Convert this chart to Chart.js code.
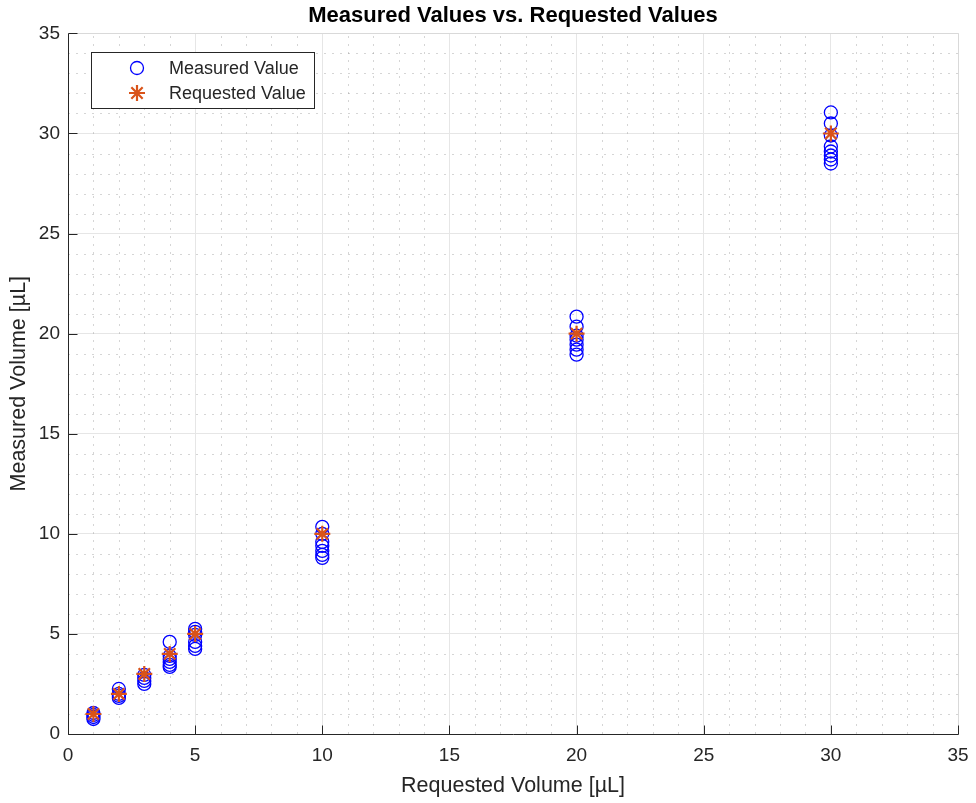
<!DOCTYPE html>
<html>
<head>
<meta charset="utf-8">
<script src="https://cdn.jsdelivr.net/npm/chart.js@4.4.0/dist/chart.umd.min.js"></script>
<style>
  html, body { margin: 0; padding: 0; background: #fff; }
  #wrap { width: 976px; height: 803px; }
</style>
</head>
<body>
<div id="wrap"><canvas id="scatterChart" width="976" height="803"></canvas></div>
<script>
// requested volumes [µL]
var requested = [1, 2, 3, 4, 5, 10, 20, 30];
// measured volumes for each requested volume
var measured1 = [1.05, 0.95, 0.85, 0.75];
var measured2 = [2.25, 2.0, 1.9, 1.8];
var measured3 = [2.95, 2.8, 2.65, 2.5];
var measured4 = [4.6, 3.9, 3.75, 3.6, 3.45, 3.35];
var measured5 = [5.25, 5.1, 4.95, 4.6, 4.4, 4.25];
var measured10 = [10.35, 10.0, 9.6, 9.4, 9.15, 8.95, 8.8];
var measured20 = [20.85, 20.35, 19.9, 19.7, 19.45, 19.2, 18.95];
var measured30 = [31.05, 30.5, 29.9, 29.35, 29.1, 28.9, 28.7, 28.5];
var measuredAll = [measured1, measured2, measured3, measured4, measured5, measured10, measured20, measured30];
var axisTicks = [0, 5, 10, 15, 20, 25, 30, 35];

var measuredPoints = [];
requested.forEach(function (r, i) {
    measuredAll[i].forEach(function (m) {
        measuredPoints.push({ x: r, y: m });
    });
});
var requestedPoints = requested.map(function (r) { return { x: r, y: r }; });

var textColor = '#262626';
var fontFamily = '"Liberation Sans", Arial, Helvetica, sans-serif';

// MATLAB style: minor dotted grid, box, inward ticks, legend inside axes
var matlabPlugin = {
    id: 'matlabPlugin',
    beforeDatasetsDraw: function (chart) {
        var ctx = chart.ctx, a = chart.chartArea;
        var xs = chart.scales.x, ys = chart.scales.y;
        ctx.save();
        ctx.strokeStyle = 'rgba(150,150,150,0.4)';
        ctx.lineWidth = 1;
        ctx.setLineDash([2, 6]);
        for (var v = xs.min; v <= xs.max; v++) {
            if (v % 5 === 0) continue;
            var px = Math.round(xs.getPixelForValue(v)) + 0.5;
            ctx.beginPath(); ctx.moveTo(px, a.bottom); ctx.lineTo(px, a.top); ctx.stroke();
        }
        for (var w = ys.min; w <= ys.max; w++) {
            if (w % 5 === 0) continue;
            var py = Math.round(ys.getPixelForValue(w)) + 0.5;
            ctx.beginPath(); ctx.moveTo(a.left, py); ctx.lineTo(a.right, py); ctx.stroke();
        }
        ctx.restore();
    },
    afterDatasetsDraw: function (chart) {
        var ctx = chart.ctx, a = chart.chartArea;
        var xs = chart.scales.x, ys = chart.scales.y;
        var L = Math.round(a.left) + 0.5, R = Math.round(a.right) + 0.5;
        var T = Math.round(a.top) + 0.5, B = Math.round(a.bottom) + 0.5;
        ctx.save();
        ctx.setLineDash([]);
        ctx.lineWidth = 1;
        // top / right box edges (light)
        ctx.strokeStyle = '#d9d9d9';
        ctx.beginPath();
        ctx.moveTo(L, T); ctx.lineTo(R, T); ctx.lineTo(R, B);
        ctx.stroke();
        // left / bottom axes (dark)
        ctx.strokeStyle = textColor;
        ctx.beginPath();
        ctx.moveTo(L, T); ctx.lineTo(L, B); ctx.lineTo(R, B);
        ctx.stroke();
        // inward ticks
        var tl = 9;
        axisTicks.forEach(function (t) {
            var px = Math.round(xs.getPixelForValue(t)) + 0.5;
            ctx.beginPath();
            ctx.moveTo(px, B); ctx.lineTo(px, B - tl);
            ctx.stroke();
            var py = Math.round(ys.getPixelForValue(t)) + 0.5;
            ctx.beginPath();
            ctx.moveTo(L, py); ctx.lineTo(L + tl, py);
            ctx.stroke();
        });
        // legend box
        var bx = 91, by = 52, bw = 223, bh = 56;
        ctx.fillStyle = '#fff';
        ctx.fillRect(bx, by, bw, bh);
        ctx.strokeStyle = textColor;
        ctx.strokeRect(bx + 0.5, by + 0.5, bw, bh);
        var ds = chart.data.datasets;
        ctx.font = '18px ' + fontFamily;
        ctx.textBaseline = 'middle';
        ctx.textAlign = 'left';
        ds.forEach(function (d, i) {
            var cy = by + 16 + i * 25;
            ctx.strokeStyle = d.borderColor;
            ctx.fillStyle = 'rgba(0,0,0,0)';
            ctx.lineWidth = d.borderWidth;
            Chart.helpers.drawPoint(ctx, { pointStyle: d.pointStyle, radius: d.pointRadius, borderWidth: d.borderWidth }, 137, cy);
            ctx.fillStyle = textColor;
            ctx.fillText(d.label, 169, cy + 1);
        });
        ctx.restore();
    }
};

var ctx = document.getElementById('scatterChart').getContext('2d');
var myChart = new Chart(ctx, {
    type: 'scatter',
    data: {
        datasets: [{
            label: 'Measured Value',
            data: measuredPoints,
            pointStyle: 'circle',
            pointRadius: 6.5,
            borderColor: '#0000ff',
            backgroundColor: 'rgba(0,0,0,0)',
            borderWidth: 1.3,
            order: 2
        }, {
            label: 'Requested Value',
            data: requestedPoints,
            pointStyle: 'star',
            pointRadius: 8,
            borderColor: '#d95319',
            backgroundColor: '#d95319',
            borderWidth: 2.2,
            order: 1
        }]
    },
    options: {
        responsive: false,
        animation: false,
        layout: { padding: { left: 0, right: 18, top: 0, bottom: 0 } },
        plugins: {
            legend: { display: false },
            tooltip: { enabled: false },
            title: {
                display: true,
                fullSize: false,
                text: 'Measured Values vs. Requested Values',
                color: '#000',
                font: { family: fontFamily, size: 22, weight: 'bold' },
                padding: { top: 3, bottom: 4 }
            }
        },
        scales: {
            x: {
                type: 'linear',
                min: 0, max: 35,
                afterBuildTicks: function (s) { s.ticks = axisTicks.map(function (v) { return { value: v }; }); },
                afterFit: function (s) { s.height = 69; s.paddingLeft = 0; s.paddingRight = 0; },
                grid: { color: '#e6e6e6', drawTicks: false },
                border: { display: false },
                ticks: { color: textColor, padding: 10, font: { family: fontFamily, size: 19 } },
                title: {
                    display: true, text: 'Requested Volume [µL]', color: textColor,
                    font: { family: fontFamily, size: 21.5 }, padding: { top: 7 }
                }
            },
            y: {
                type: 'linear',
                min: 0, max: 35,
                afterBuildTicks: function (s) { s.ticks = axisTicks.map(function (v) { return { value: v }; }); },
                afterFit: function (s) { s.width = 68; s.paddingTop = 0; s.paddingBottom = 0; },
                grid: { color: '#e6e6e6', drawTicks: false },
                border: { display: false },
                ticks: { color: textColor, padding: 8, font: { family: fontFamily, size: 19 } },
                title: {
                    display: true, text: 'Measured Volume [µL]', color: textColor,
                    font: { family: fontFamily, size: 21.5 }, padding: { top: 6 }
                }
            }
        }
    },
    plugins: [matlabPlugin]
});
</script>
</body>
</html>
